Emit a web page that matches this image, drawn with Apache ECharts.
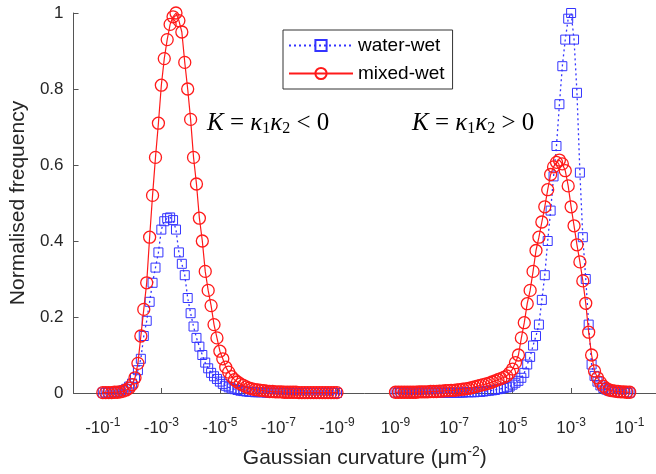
<!DOCTYPE html>
<html>
<head>
<meta charset="utf-8">
<script src="https://cdn.jsdelivr.net/npm/echarts@6/dist/echarts.min.js"></script>
<style>
  html, body { margin: 0; padding: 0; background: #fff; }
  #chart { width: 656px; height: 474px; }
</style>
</head>
<body>
<div id="chart"></div>
<script>
// x position: one unit per decade; -10^-1 sits at 0, 10^-9 at 10
const binsPerDecade = 10
const negStart = 0
const posStart = 10

const tickPos = [0, 2, 4, 6, 8, 10, 12, 14, 16, 18]
const tickBase = ['-10', '-10', '-10', '-10', '-10', '10', '10', '10', '10', '10']
const tickExp = ['-1', '-3', '-5', '-7', '-9', '-9', '-7', '-5', '-3', '-1']

// K < 0, from -10^-1 towards -10^-9
const negWaterWet = [
  0.001, 0.001, 0.001, 0.001, 0.002, 0.003, 0.004, 0.007, 0.011, 0.017,
  0.025, 0.04, 0.06, 0.09, 0.15, 0.19, 0.24, 0.29, 0.33, 0.37,
  0.43, 0.452, 0.46, 0.462, 0.455, 0.43, 0.37, 0.34, 0.31, 0.25,
  0.21, 0.175, 0.145, 0.122, 0.1, 0.08, 0.065, 0.053, 0.044, 0.037,
  0.03, 0.024, 0.019, 0.015, 0.012, 0.01, 0.008, 0.006, 0.005, 0.004,
  0.003, 0.003, 0.002, 0.002, 0.002, 0.002, 0.001, 0.001, 0.001, 0.001,
  0, 0, 0, 0, 0, 0, 0, 0, 0, 0,
  0, 0, 0, 0, 0, 0, 0, 0, 0, 0, 0
]
const negMixedWet = [
  0.001, 0.001, 0.001, 0.001, 0.002, 0.002, 0.003, 0.005, 0.008, 0.013,
  0.022, 0.04, 0.078, 0.15, 0.22, 0.29, 0.41, 0.52, 0.62, 0.71,
  0.81, 0.88, 0.93, 0.97, 0.99, 1.0, 0.98, 0.95, 0.87, 0.8,
  0.72, 0.62, 0.55, 0.46, 0.4, 0.32, 0.27, 0.23, 0.18, 0.145,
  0.11, 0.09, 0.068, 0.055, 0.043, 0.035, 0.029, 0.024, 0.02, 0.016,
  0.013, 0.011, 0.009, 0.008, 0.007, 0.006, 0.005, 0.004, 0.004, 0.003,
  0.003, 0.003, 0.002, 0.002, 0.002, 0.002, 0.002, 0.001, 0.001, 0.001,
  0.001, 0.001, 0.001, 0.001, 0.001, 0.001, 0.001, 0.001, 0.001, 0.001, 0.001
]
// K > 0, from 10^-9 towards 10^-1
const posWaterWet = [
  0.001, 0.001, 0.001, 0.001, 0.001, 0.001, 0.001, 0.001, 0.001, 0.001,
  0.001, 0.001, 0.001, 0.001, 0.001, 0.001, 0.001, 0.001, 0.001, 0.001,
  0.001, 0.001, 0.001, 0.001, 0.002, 0.002, 0.002, 0.002, 0.003, 0.003,
  0.004, 0.005, 0.006, 0.007, 0.008, 0.01, 0.011, 0.013, 0.015, 0.017,
  0.022, 0.027, 0.032, 0.04, 0.053, 0.075, 0.095, 0.125, 0.15, 0.18,
  0.245, 0.31, 0.4, 0.48, 0.57, 0.65, 0.76, 0.86, 0.93, 0.985,
  1.0, 0.93, 0.79, 0.58, 0.41, 0.3, 0.18, 0.075, 0.045, 0.03,
  0.02, 0.013, 0.009, 0.006, 0.004, 0.003, 0.002, 0.002, 0.001, 0.001, 0.001
]
const posMixedWet = [
  0.002, 0.002, 0.002, 0.002, 0.002, 0.002, 0.002, 0.002, 0.003, 0.003,
  0.003, 0.003, 0.004, 0.004, 0.004, 0.005, 0.005, 0.006, 0.006, 0.007,
  0.007, 0.008, 0.009, 0.01, 0.011, 0.012, 0.014, 0.016, 0.018, 0.02,
  0.022, 0.024, 0.026, 0.029, 0.032, 0.035, 0.038, 0.041, 0.045, 0.053,
  0.063, 0.08, 0.1, 0.145, 0.185, 0.235, 0.27, 0.32, 0.375, 0.41,
  0.45, 0.49, 0.535, 0.575, 0.595, 0.607, 0.613, 0.603, 0.585, 0.545,
  0.49, 0.44, 0.39, 0.345, 0.295, 0.236, 0.16, 0.1, 0.058, 0.04,
  0.028, 0.018, 0.012, 0.008, 0.006, 0.005, 0.004, 0.003, 0.003, 0.002, 0.002
]

const sansFont = '"Liberation Sans", Arial, sans-serif'
const serifFont = '"Liberation Serif", "DejaVu Serif", serif'
const blue = '#3434ff'
const red = '#ff1a1a'

const toPoints = (values, start) => values.map((v, i) => [start + i / binsPerDecade, v])

const waterWetStyle = {
  name: 'water-wet',
  type: 'line',
  symbol: 'rect',
  symbolSize: 9,
  showAllSymbol: true,
  lineStyle: { color: blue, width: 1.3, type: [2, 3] },
  itemStyle: { color: 'rgba(0,0,0,0)', borderColor: blue, borderWidth: 1 },
  emphasis: { disabled: true },
  animation: false,
  z: 2
}
const mixedWetStyle = {
  name: 'mixed-wet',
  type: 'line',
  symbol: 'circle',
  symbolSize: 12,
  showAllSymbol: true,
  lineStyle: { color: red, width: 1.2 },
  itemStyle: { color: 'rgba(0,0,0,0)', borderColor: red, borderWidth: 1.3 },
  emphasis: { disabled: true },
  animation: false,
  z: 3
}

const chart = echarts.init(document.getElementById('chart'))

const mathRich = {
  i: { fontFamily: serifFont, fontStyle: 'italic', fontSize: 25, color: '#111' },
  r: { fontFamily: serifFont, fontSize: 25, color: '#111' },
  sub: { fontFamily: serifFont, fontSize: 16, color: '#111', padding: [10, 0, 0, 0] }
}

const option = {
  backgroundColor: '#fff',
  grid: { left: 73, right: 0, top: 13, bottom: 81, containLabel: false },
  legend: {
    data: ['water-wet', 'mixed-wet'],
    orient: 'vertical',
    left: 283,
    top: 30,
    itemWidth: 64,
    itemHeight: 14,
    itemGap: 9,
    padding: [6, 8, 6, 5],
    borderColor: '#333',
    borderWidth: 1,
    backgroundColor: '#fff',
    textStyle: { fontFamily: sansFont, fontSize: 19, color: '#000' }
  },
  xAxis: {
    type: 'value',
    min: -1,
    max: 18.9,
    name: '{n|Gaussian curvature (μm}{s|-2}{n|)}',
    nameLocation: 'middle',
    nameGap: 52,
    nameTextStyle: {
      rich: {
        n: { fontFamily: sansFont, fontSize: 21, color: '#262626' },
        s: { fontFamily: sansFont, fontSize: 14, color: '#262626', padding: [0, 0, 12, 0] }
      }
    },
    axisLine: { lineStyle: { color: '#555', width: 1 } },
    axisTick: { show: true, inside: true, length: 5, customValues: tickPos, lineStyle: { color: '#555' } },
    axisLabel: {
      customValues: tickPos,
      margin: 24,
      formatter: (v) => {
        const i = tickPos.indexOf(v)
        return i < 0 ? '' : `{b|${tickBase[i]}}{s|${tickExp[i]}}`
      },
      rich: {
        b: { fontFamily: sansFont, fontSize: 17, color: '#262626' },
        s: { fontFamily: sansFont, fontSize: 12, color: '#262626', padding: [0, 0, 11, 0] }
      }
    },
    splitLine: { show: false }
  },
  yAxis: {
    type: 'value',
    min: 0,
    max: 1,
    interval: 0.2,
    name: 'Normalised frequency',
    nameLocation: 'middle',
    nameGap: 44,
    nameTextStyle: { fontFamily: sansFont, fontSize: 21, color: '#262626' },
    axisLine: { show: true, onZero: false, lineStyle: { color: '#555', width: 1 } },
    axisTick: { show: true, inside: true, length: 5, lineStyle: { color: '#555' } },
    axisLabel: { fontFamily: sansFont, fontSize: 17, color: '#262626', margin: 10 },
    splitLine: { show: false }
  },
  graphic: [
    {
      type: 'text', left: 207, top: 111, z: 10,
      style: { text: '{i|K}{r| = }{i|κ}{sub|1}{i|κ}{sub|2}{r| < 0}', rich: mathRich }
    },
    {
      type: 'text', left: 412, top: 111, z: 10,
      style: { text: '{i|K}{r| = }{i|κ}{sub|1}{i|κ}{sub|2}{r| > 0}', rich: mathRich }
    }
  ],
  series: [
    { ...waterWetStyle, data: toPoints(negWaterWet, negStart) },
    { ...waterWetStyle, data: toPoints(posWaterWet, posStart) },
    { ...mixedWetStyle, data: toPoints(negMixedWet, negStart) },
    { ...mixedWetStyle, data: toPoints(posMixedWet, posStart) }
  ]
}

chart.setOption(option)
</script>
</body>
</html>
